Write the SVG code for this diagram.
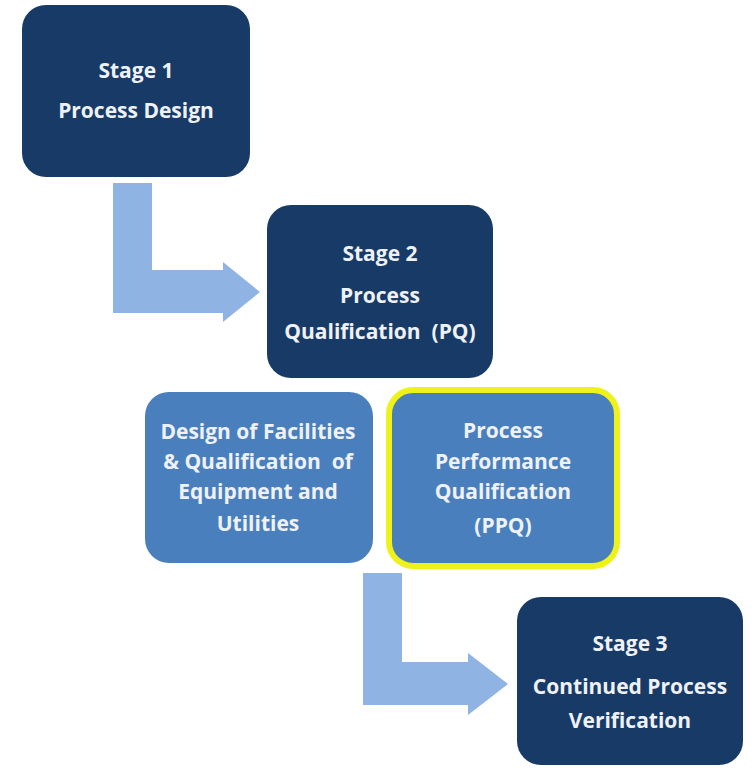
<svg xmlns="http://www.w3.org/2000/svg" width="755" height="768" viewBox="0 0 755 768">
<style>
.dark{fill:#183a66;}
.mid{fill:#4a7fbd;}
.arrow{fill:#8fb4e3;}
text{font-family:"Open Sans","Liberation Sans",sans-serif;font-weight:bold;font-size:21px;fill:#eef2f8;text-anchor:middle;white-space:pre;}
</style>
<rect width="755" height="768" fill="#ffffff"/>
<g id="connectors">
<path class="arrow" d="M113,183 H152 V270 H223 V262 L260,292 L223,322 V313 H113 Z"/>
<path class="arrow" d="M363,573 H402 V662 H468 V653 L508,684 L468,715 V705 H363 Z"/>
</g>
<g id="stage1">
<rect class="dark" x="22" y="5" width="228" height="172" rx="24"/>
<text x="136" y="78">Stage 1</text>
<text x="136" y="118">Process Design</text>
</g>
<g id="stage2">
<rect class="dark" x="267" y="205" width="226" height="173" rx="24"/>
<text x="380" y="261">Stage 2</text>
<text x="380" y="303">Process</text>
<text x="380" y="339">Qualification  (PQ)</text>
</g>
<g id="design">
<rect class="mid" x="145" y="392" width="228" height="171" rx="24"/>
<text x="258" y="439">Design of Facilities</text>
<text x="258" y="469">&amp; Qualification  of</text>
<text x="258" y="499">Equipment and</text>
<text x="258" y="531">Utilities</text>
</g>
<g id="ppq">
<rect class="mid" x="389" y="390" width="228" height="176" rx="24" stroke="#eef21a" stroke-width="6"/>
<text x="503" y="438">Process</text>
<text x="503" y="469">Performance</text>
<text x="503" y="499">Qualification</text>
<text x="503" y="533">(PPQ)</text>
</g>
<g id="stage3">
<rect class="dark" x="517" y="597" width="226" height="168" rx="24"/>
<text x="630" y="651">Stage 3</text>
<text x="630" y="694">Continued Process</text>
<text x="630" y="728">Verification</text>
</g>
</svg>
